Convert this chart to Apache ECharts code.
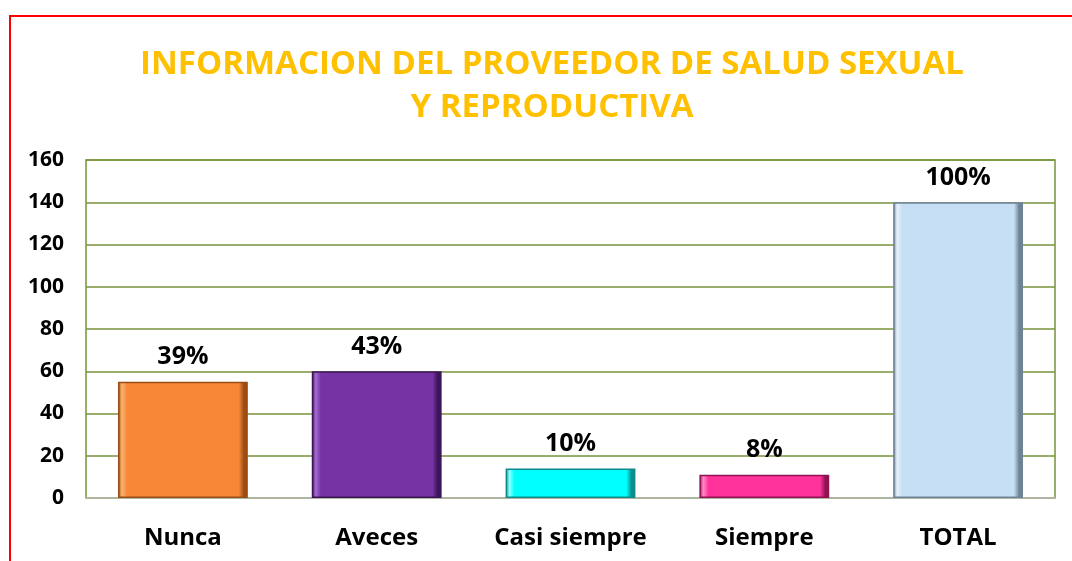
<!DOCTYPE html>
<html>
<head>
<meta charset="utf-8">
<script src="https://cdn.jsdelivr.net/npm/echarts@6/dist/echarts.min.js"></script>
<style>
  html, body { margin: 0; padding: 0; background: #fff; }
  #chart { width: 1072px; height: 561px; }
</style>
</head>
<body>
<div id="chart"></div>
<script>
const categories = ['Nunca', 'Aveces', 'Casi siempre', 'Siempre', 'TOTAL']
const values = [55, 60, 14, 11, 140]
const percents = ['39%', '43%', '10%', '8%', '100%']
const yTicks = [0, 20, 40, 60, 80, 100, 120, 140, 160]

// base, light edge, dark edge
const palette = [
  ['#F68838', '#FBB46F', '#9A4D14'],
  ['#7533A3', '#A56BD0', '#3C1458'],
  ['#00FFFF', '#8CFFFF', '#0E8C8C'],
  ['#FF3399', '#FF8CC6', '#8F1352'],
  ['#C6DFF5', '#E8F2FC', '#6F8397']
]

function bevel(c) {
  return {
    type: 'linear', x: 0, y: 0, x2: 1, y2: 0,
    colorStops: [
      { offset: 0, color: c[2] },
      { offset: 0.03, color: c[1] },
      { offset: 0.07, color: c[0] },
      { offset: 0.93, color: c[0] },
      { offset: 0.97, color: c[2] },
      { offset: 1, color: c[2] }
    ]
  }
}

const chart = echarts.init(document.getElementById('chart'))
const font = '"Open Sans", "Liberation Sans", sans-serif'

chart.setOption({
  animation: false,
  graphic: [{
    type: 'rect',
    shape: { x: 10, y: 16, width: 1100, height: 600 },
    style: { fill: 'none', stroke: '#FF0000', lineWidth: 2 },
    silent: true
  }],
  title: {
    text: 'INFORMACION DEL PROVEEDOR DE SALUD SEXUAL\nY REPRODUCTIVA',
    left: 547,
    textAlign: 'center',
    top: 38,
    textStyle: {
      color: '#FFC000',
      fontFamily: font,
      fontWeight: 'bold',
      fontSize: 33,
      lineHeight: 43
    }
  },
  grid: {
    left: 86,
    right: 17,
    top: 160,
    bottom: 63,
    show: true,
    borderColor: '#77933C',
    borderWidth: 1.5
  },
  xAxis: {
    type: 'category',
    data: categories,
    axisTick: { show: false },
    axisLine: { lineStyle: { color: '#BFBFBF', width: 1.5 } },
    axisLabel: {
      interval: 0,
      color: '#000',
      fontFamily: font,
      fontWeight: 'bold',
      fontSize: 24,
      margin: 28
    }
  },
  yAxis: {
    type: 'value',
    min: yTicks[0],
    max: yTicks[yTicks.length - 1],
    interval: 20,
    axisLine: { show: false },
    axisTick: { show: false },
    splitLine: { lineStyle: { color: '#77933C', width: 1.5 } },
    axisLabel: {
      color: '#000',
      fontFamily: font,
      fontWeight: 'bold',
      fontSize: 21,
      margin: 22
    }
  },
  series: [{
    type: 'bar',
    barWidth: '67%',
    data: values.map((v, i) => ({
      value: v,
      itemStyle: {
        color: bevel(palette[i]),
        borderColor: palette[i][2],
        borderWidth: 1.5
      }
    })),
    label: {
      show: true,
      position: 'top',
      distance: 12,
      formatter: p => percents[p.dataIndex],
      color: '#000',
      fontFamily: font,
      fontWeight: 'bold',
      fontSize: 25
    }
  }]
})
</script>
</body>
</html>
